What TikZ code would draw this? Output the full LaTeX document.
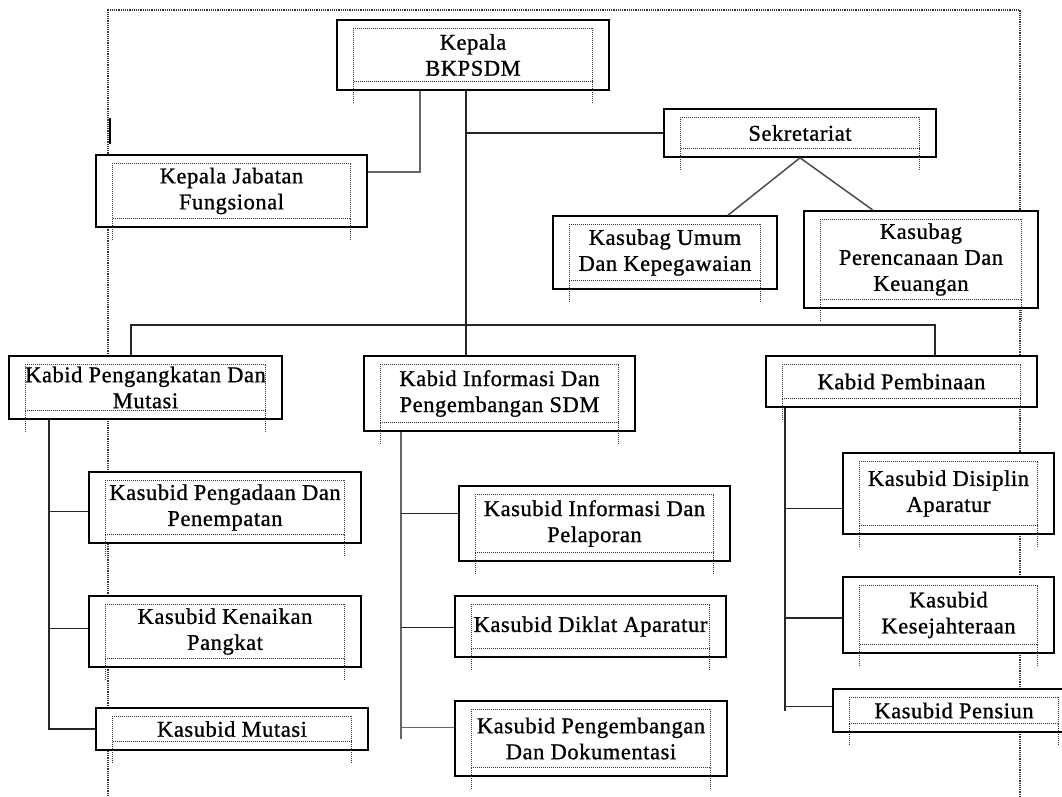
\documentclass[tikz,border=0pt]{standalone}
\usepackage{fontspec}
\setmainfont[FakeBold=0.9, LetterSpace=2.5]{Liberation Serif}
\usetikzlibrary{calc}

\begin{document}
\begin{tikzpicture}[x=1pt, y=-1pt,
    unitbox/.style={draw, fill=white, line width=1.6pt, align=center,
      inner sep=0pt, font=\fontsize{22.5}{26}\selectfont},
    conn/.style={line width=1.5pt, draw=black!85},
    pageline/.style={densely dotted, line width=1.2pt, draw=black!80},
    txtframe/.style={densely dotted, line width=1pt, draw=black!80}]
  \useasboundingbox (0,0) rectangle (1062,796);

  % page margins
  \draw[pageline] (108,796) -- (108,10) -- (1020,10) -- (1020,796);
  \draw[line width=1.4pt] (110,118) -- (110,144);

  \node[unitbox, minimum width=272, minimum height=70] (kepala) at (473,55) {Kepala\\BKPSDM};
  \node[unitbox, minimum width=271, minimum height=72] (jafung) at (231.5,191) {Kepala Jabatan\\Fungsional};
  \node[unitbox, minimum width=272, minimum height=48] (sekre) at (800,133) {Sekretariat};
  \node[unitbox, minimum width=224, minimum height=73] (umum) at (665,252.5) {Kasubag Umum\\Dan Kepegawaian};
  \node[unitbox, minimum width=234, minimum height=97] (renkeu) at (921,259.5) {Kasubag\\Perencanaan Dan\\Keuangan};

  \node[unitbox, minimum width=273, minimum height=63] (kabidA) at (145.5,387.5) {Kabid Pengangkatan Dan\\Mutasi};
  \node[unitbox, minimum width=271, minimum height=75] (kabidB) at (499.5,393.5) {Kabid Informasi Dan\\Pengembangan SDM};
  \node[unitbox, minimum width=271, minimum height=51] (kabidC) at (901.5,381.5) {Kabid Pembinaan};

  \node[unitbox, minimum width=272, minimum height=71] (pengadaan) at (225,507.5) {Kasubid Pengadaan Dan\\Penempatan};
  \node[unitbox, minimum width=272, minimum height=71] (pangkat) at (225,631.5) {Kasubid Kenaikan\\Pangkat};
  \node[unitbox, minimum width=272, minimum height=42] (mutasi) at (232,729) {Kasubid Mutasi};

  \node[unitbox, minimum width=271, minimum height=75] (lapor) at (594.5,523.5) {Kasubid Informasi Dan\\Pelaporan};
  \node[unitbox, minimum width=271, minimum height=61] (diklat) at (590.5,626.5) {Kasubid Diklat Aparatur};
  \node[unitbox, minimum width=272, minimum height=75] (dokum) at (591,738.5) {Kasubid Pengembangan\\Dan Dokumentasi};

  \node[unitbox, minimum width=211, minimum height=81] (disiplin) at (948.5,493.5) {Kasubid Disiplin\\Aparatur};
  \node[unitbox, minimum width=211, minimum height=76] (sejahtera) at (948.5,615) {Kasubid\\Kesejahteraan};
  \node[unitbox, minimum width=242, minimum height=43] (pensiun) at (954,710.5) {Kasubid Pensiun};

  % dotted text frames
  \foreach \n in {kepala, jafung, sekre, umum, renkeu, kabidA, kabidB, kabidC,
      pengadaan, pangkat, mutasi, lapor, diklat, dokum, disiplin, sejahtera, pensiun} {
    \draw[txtframe] ($(\n.north west)+(17,9)$) rectangle ($(\n.south east)+(-17,-9)$);
    \draw[txtframe] ($(\n.south west)+(17,-9)$) -- ++(0,22);
    \draw[txtframe] ($(\n.south east)+(-17,-9)$) -- ++(0,22);
  }

  \coordinate (trunk) at (466,325);
  \coordinate (jf) at (420,172);
  \coordinate (busL) at (131,325);
  \coordinate (busR) at (935,325);
  \coordinate (spA) at (49,0);
  \coordinate (spB) at (401,0);
  \coordinate (spC) at (785,0);

  \draw[conn] (trunk |- kepala.south) -- (trunk |- kabidB.north);
  \draw[conn] (trunk |- sekre.west) -- (sekre.west);
  \draw[conn, draw=black!60] (jf |- kepala.south) -- (jf) -- (jf -| jafung.east);
  \draw[conn, draw=black!70] (sekre.south) -- ([xshift=63pt]umum.north);
  \draw[conn, draw=black!70] (sekre.south) -- ([xshift=-48pt]renkeu.north);
  \draw[conn] (busL |- kabidA.north) -- (busL) -- (busR) -- (busR |- kabidC.north);

  \draw[conn] (spA |- kabidA.south) -- (spA |- mutasi.west) -- (mutasi.west);
  \draw[conn] (spA |- pengadaan.west) ++(0,4) -- ([yshift=-4pt]pengadaan.west);
  \draw[conn] (spA |- pangkat.west) ++(0,-3) -- ([yshift=3pt]pangkat.west);

  \draw[conn, draw=black!60] (spB |- kabidB.south) -- (spB |- dokum.west) ++(0,-11) -- ([yshift=11pt]dokum.west);
  \draw[conn] (spB |- lapor.west) ++(0,-10) -- ([yshift=10pt]lapor.west);
  \draw[conn] (spB |- diklat.west) ++(0,1) -- ([yshift=-1pt]diklat.west);

  \draw[conn] (spC |- kabidC.south) -- (spC |- pensiun.west) ++(0,-4) -- ([yshift=4pt]pensiun.west);
  \draw[conn] (spC |- disiplin.west) ++(0,15) -- ([yshift=-15pt]disiplin.west);
  \draw[conn] (spC |- sejahtera.west) ++(0,3) -- ([yshift=-3pt]sejahtera.west);
\end{tikzpicture}
\end{document}
